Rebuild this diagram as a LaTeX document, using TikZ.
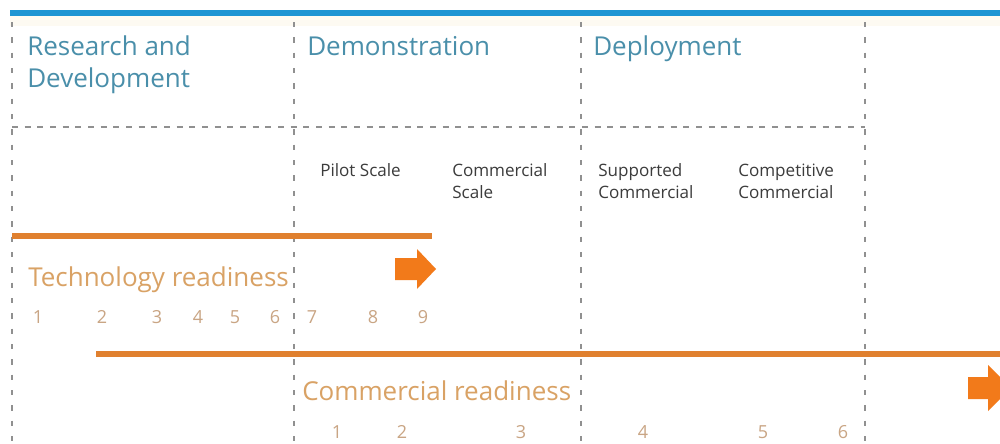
\documentclass[tikz,border=0pt]{standalone}
\usepackage{fontspec}
\setmainfont{Open Sans}
\definecolor{topblue}{HTML}{1E95D3}
\definecolor{headteal}{HTML}{4A8FAA}
\definecolor{subgray}{HTML}{3C3C3C}
\definecolor{dashgray}{HTML}{909090}
\definecolor{barorange}{HTML}{E0802F}
\definecolor{arroworange}{HTML}{F27A1A}
\definecolor{labtan}{HTML}{D9A265}
\definecolor{numtan}{HTML}{C9A584}
\definecolor{cream}{HTML}{FDFAF2}
\begin{document}
\begin{tikzpicture}[x=0.75pt,y=-0.75pt,
  vline/.style={draw=dashgray, line width=2.2pt, dash pattern=on 4pt off 7.5pt},
  hline/.style={draw=dashgray, line width=2.1pt, dash pattern=on 4.5pt off 5pt},
  bar/.style={draw=barorange, line width=4.5pt},
  head/.style={text=headteal, inner sep=0pt, anchor=base west, font=\fontsize{19.5}{23}\selectfont},
  sub/.style={text=subgray, inner sep=0pt, anchor=base west, font=\fontsize{12.8}{15}\selectfont},
  readlab/.style={text=labtan, inner sep=0pt, anchor=base west, font=\fontsize{19.5}{23}\selectfont},
  num/.style={text=numtan, inner sep=0pt, anchor=base, font=\fontsize{13.5}{15}\selectfont},
  blockarrow/.style={fill=arroworange, draw=none}
]
\useasboundingbox (0,0) rectangle (1000,443);
\clip (0,0) rectangle (1000,443);
\fill[white] (0,0) rectangle (1000,443);
\fill[cream] (10,16) rectangle (1000,26);
% top blue rule
\coordinate (bl) at (10,13);
\coordinate (br) at (1000,13);
\draw[topblue, line width=4pt] (bl) -- (br);
% vertical dashed dividers
\foreach \xx/\nm in {12/v0,294/v1,581/v2,865/v3}{
  \coordinate (\nm t) at (\xx,22);
  \coordinate (\nm b) at (\xx,445);
  \draw[vline] (\nm t) -- (\nm b);
}
% horizontal dashed divider
\coordinate (hl) at (12,127);
\coordinate (hr) at (865,127);
\draw[hline] (hl) -- (hr);
% headers
\node[head] (rd1) at (27,55) {Research and};
\node[head] (rd2) at (27,87) {Development};
\node[head] (demo) at (307,55) {Demonstration};
\node[head] (depl) at (593,55) {Deployment};
% sub headers
\node[sub] (pilot) at (320,176) {Pilot Scale};
\node[sub] (cs1) at (452,176) {Commercial};
\node[sub] (cs2) at (452,198) {Scale};
\node[sub] (sc1) at (598,176) {Supported};
\node[sub] (sc2) at (598,198) {Commercial};
\node[sub] (cc1) at (738,176) {Competitive};
\node[sub] (cc2) at (738,198) {Commercial};
% technology readiness bar
\coordinate (t0) at (12,236);
\coordinate (t1) at (432,236);
\draw[bar] (t0) -- (t1);
\fill[blockarrow] (395,258) -- (417,258) -- (417,249) -- (436,269) -- (417,289) -- (417,280) -- (395,280) -- cycle;
\node[readlab] (tr) at (28,286) {Technology readiness};
\foreach \n/\xx in {1/38,2/102,3/157,4/198,5/235,6/275,7/312,8/373,9/423}{
  \node[num] (trl\n) at (\xx,323) {\n};
}
% commercial readiness bar
\coordinate (c0) at (96,354);
\coordinate (c1) at (1000,354);
\draw[bar] (c0) -- (c1);
\fill[blockarrow] (968,377) -- (988,377) -- (988,365) -- (1011,388) -- (988,411) -- (988,399) -- (968,399) -- cycle;
\node[readlab] (cr) at (302,400) {Commercial readiness};
\foreach \n/\xx in {1/337,2/402,3/521,4/643,5/763,6/843}{
  \node[num] (crl\n) at (\xx,438) {\n};
}
\end{tikzpicture}
\end{document}
